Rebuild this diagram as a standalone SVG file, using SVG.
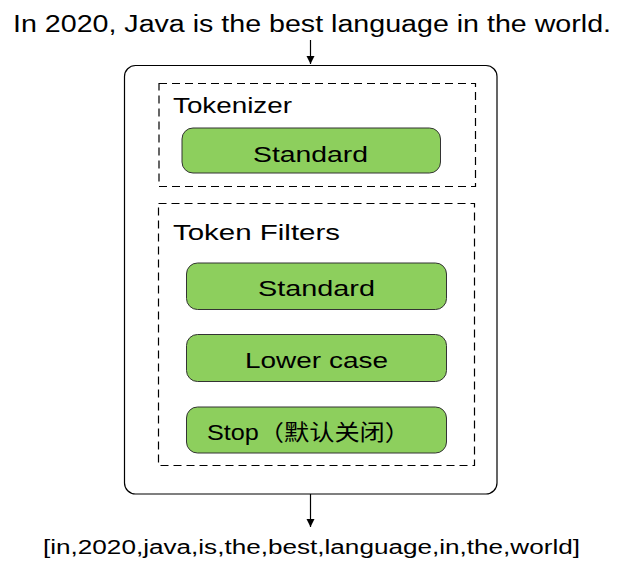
<svg xmlns="http://www.w3.org/2000/svg" width="634" height="583" viewBox="0 0 634 583">
<style>
text{font-family:"Liberation Sans","Noto Sans CJK SC",sans-serif;fill:#000}
.title{font-size:23px}
.lbl{font-size:22px}
.btn{fill:#8dcf5d;stroke:#333;stroke-width:1}
.dash{fill:none;stroke:#000;stroke-width:1.2;stroke-dasharray:8 5}
.edge{stroke:#000;stroke-width:1.2;fill:none}
</style>
<defs>
<marker id="ah" markerWidth="10" markerHeight="10" refX="9" refY="5" orient="auto" markerUnits="userSpaceOnUse">
<path d="M1,1 L9,5 L1,9 Z" fill="#000"/>
</marker>
</defs>
<rect width="634" height="583" fill="#fff"/>
<g id="input"><text class="title" x="13" y="32" textLength="598" lengthAdjust="spacingAndGlyphs">In 2020, Java is the best language in the world.</text></g>
<g id="analyzer"><rect x="124.5" y="65.5" width="372.5" height="428.5" rx="11" fill="#fff" stroke="#000" stroke-width="1.2"/></g>
<g id="tokenizer-group">
<rect class="dash" x="159" y="83.5" width="316.5" height="103"/>
<text class="lbl" x="173" y="113" textLength="119" lengthAdjust="spacingAndGlyphs">Tokenizer</text>
</g>
<g id="tokenizer-standard">
<rect class="btn" x="182" y="128" width="258.5" height="45" rx="11"/>
<text class="lbl" x="253" y="162" textLength="115" lengthAdjust="spacingAndGlyphs">Standard</text>
</g>
<g id="filters-group">
<rect class="dash" x="158.5" y="203.5" width="316" height="262"/>
<text class="lbl" x="173" y="240" textLength="167" lengthAdjust="spacingAndGlyphs">Token Filters</text>
</g>
<g id="filter-standard">
<rect class="btn" x="186.5" y="263" width="260" height="46.5" rx="11"/>
<text class="lbl" x="258" y="296" textLength="117" lengthAdjust="spacingAndGlyphs">Standard</text>
</g>
<g id="filter-lowercase">
<rect class="btn" x="186.5" y="334.5" width="260" height="47" rx="11"/>
<text class="lbl" x="245" y="368" textLength="143" lengthAdjust="spacingAndGlyphs">Lower case</text>
</g>
<g id="filter-stop">
<rect class="btn" x="186.5" y="407" width="260" height="46" rx="11"/>
<text class="lbl" x="207" y="440" textLength="203" lengthAdjust="spacingAndGlyphs">Stop（默认关闭）</text>
</g>
<g id="output"><text class="title" x="43" y="554" font-size="20" style="font-size:20px" textLength="537" lengthAdjust="spacingAndGlyphs">[in,2020,java,is,the,best,language,in,the,world]</text></g>
<g id="connectors">
<line class="edge" x1="310.5" y1="40" x2="310.5" y2="64" marker-end="url(#ah)"/>
<line class="edge" x1="310.5" y1="494" x2="310.5" y2="527" marker-end="url(#ah)"/>
</g>
</svg>
